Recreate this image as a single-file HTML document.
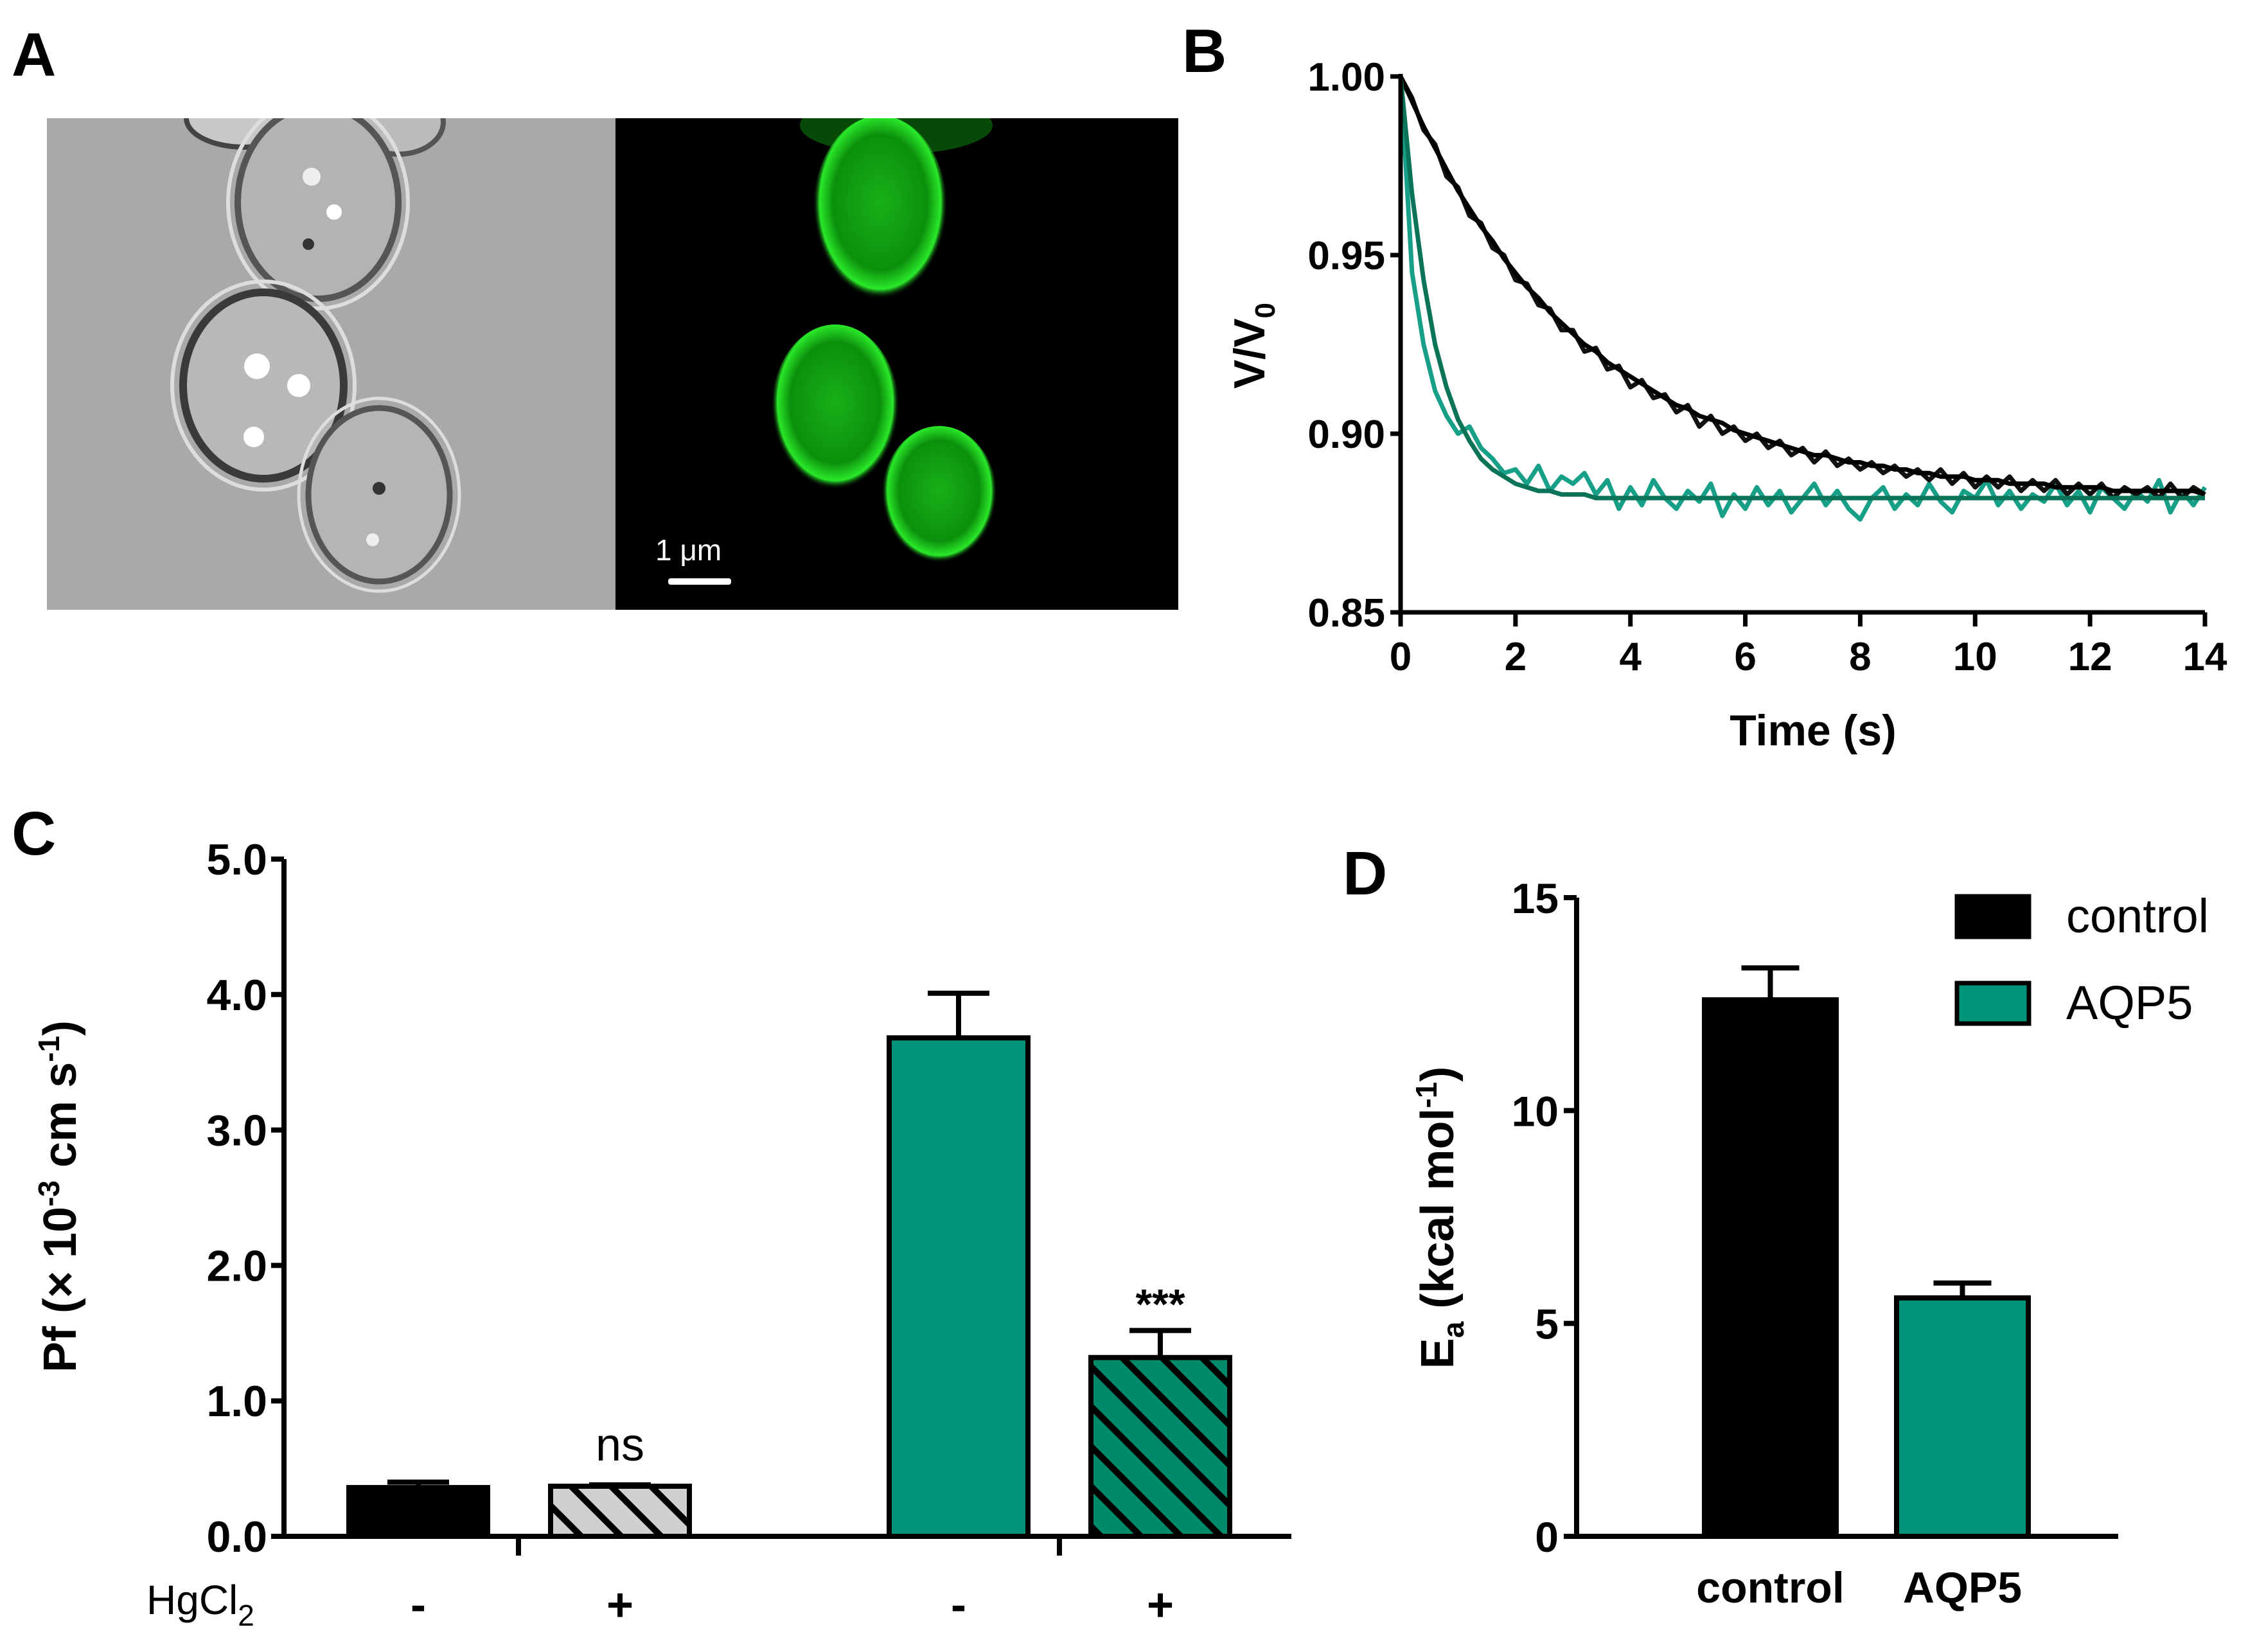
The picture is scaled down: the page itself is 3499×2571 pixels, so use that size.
<!DOCTYPE html>
<html><head><meta charset="utf-8"><style>
html,body{margin:0;padding:0;background:#fff;}
svg{display:block;}
text{font-family:"Liberation Sans",sans-serif;}
</style></head><body>
<svg id="fig" width="3499" height="2571" viewBox="0 0 3499 2571" xmlns="http://www.w3.org/2000/svg">
<defs>
<pattern id="hatchGray" patternUnits="userSpaceOnUse" width="44" height="44" patternTransform="rotate(-45)">
<rect width="44" height="44" fill="#cfcfcf"/><rect width="10" height="44" fill="#000"/></pattern>
<pattern id="hatchTeal" patternUnits="userSpaceOnUse" width="44" height="44" patternTransform="rotate(-45)">
<rect width="44" height="44" fill="#008a6c"/><rect width="10" height="44" fill="#000"/></pattern>
<radialGradient id="gcell" cx="50%" cy="45%" r="50%"><stop offset="0" stop-color="#18b018"/><stop offset="0.7" stop-color="#0c900c"/><stop offset="0.9" stop-color="#2ae82a"/><stop offset="1" stop-color="#000" stop-opacity="0"/></radialGradient>
<clipPath id="clipBF"><rect x="73" y="184" width="885" height="765"/></clipPath>
<clipPath id="clipFL"><rect x="958" y="184" width="876" height="765"/></clipPath>
</defs>

<text x="18" y="118" font-size="96" font-weight="bold">A</text>
<text x="1840" y="112" font-size="96" font-weight="bold">B</text>
<text x="18" y="1330" font-size="96" font-weight="bold">C</text>
<text x="2090" y="1392" font-size="96" font-weight="bold">D</text>

<g clip-path="url(#clipBF)">
<rect x="73" y="184" width="885" height="765" fill="#a9a9a9"/>
<ellipse cx="380" cy="184" rx="90" ry="45" fill="#c8c8c8" stroke="#444" stroke-width="8"/>
<ellipse cx="620" cy="190" rx="70" ry="50" fill="#bbb" stroke="#555" stroke-width="8"/>
<ellipse cx="495" cy="315" rx="125" ry="150" fill="#b3b3b3" stroke="#555" stroke-width="10"/>
<ellipse cx="495" cy="315" rx="140" ry="165" fill="none" stroke="#ddd" stroke-width="6"/>
<ellipse cx="410" cy="600" rx="125" ry="145" fill="#b8b8b8" stroke="#3a3a3a" stroke-width="12"/>
<ellipse cx="410" cy="600" rx="142" ry="162" fill="none" stroke="#ddd" stroke-width="6"/>
<ellipse cx="590" cy="770" rx="110" ry="135" fill="#b5b5b5" stroke="#555" stroke-width="9"/>
<ellipse cx="590" cy="770" rx="125" ry="150" fill="none" stroke="#ddd" stroke-width="5"/>
<circle cx="485" cy="275" r="14" fill="#eee"/><circle cx="520" cy="330" r="12" fill="#fff"/><circle cx="480" cy="380" r="9" fill="#333"/>
<circle cx="400" cy="570" r="20" fill="#fff"/><circle cx="465" cy="600" r="18" fill="#fff"/><circle cx="395" cy="680" r="16" fill="#fff"/>
<circle cx="590" cy="760" r="10" fill="#333"/><circle cx="580" cy="840" r="10" fill="#eee"/>
</g>
<g clip-path="url(#clipFL)">
<rect x="958" y="184" width="876" height="765" fill="#000"/>
<ellipse cx="1395" cy="195" rx="150" ry="45" fill="#0a6a0a" opacity="0.7"/>
<ellipse cx="1370" cy="330" rx="105" ry="150" fill="url(#gcell)"/>
<ellipse cx="1300" cy="640" rx="100" ry="135" fill="url(#gcell)"/>
<ellipse cx="1462" cy="775" rx="90" ry="112" fill="url(#gcell)"/>
<text x="1020" y="872" font-size="46" fill="#fff">1 μm</text>
<rect x="1040" y="900" width="98" height="10" rx="4" fill="#fff"/>
</g>

<g id="panelB"></g>
<g id="panelC"></g>
<g id="panelD"></g>
</svg>
<script>
// ---------- Panel B data ----------
const bTimeStep = 0.2;
const bYTicks = [0.85, 0.90, 0.95, 1.00];
const bXTicks = [0, 2, 4, 6, 8, 10, 12, 14];
const controlRaw = [1.000,.994,.985,.981,.972,.969,.961,.959,.952,.950,.943,.942,.936,.935,.929,.929,.923,.924,.918,.919,.913,.915,.910,.911,.906,.908,.902,.905,.900,.902,.898,.900,.896,.898,.894,.896,.892,.895,.891,.893,.890,.892,.889,.891,.888,.890,.887,.890,.886,.889,.885,.888,.885,.888,.884,.887,.884,.887,.883,.886,.883,.886,.882,.885,.883,.885,.882,.886,.882,.885,.883];
const controlFit = [1.000,.993,.986,.980,.974,.968,.963,.958,.954,.949,.945,.941,.938,.934,.931,.928,.925,.923,.920,.918,.916,.914,.912,.910,.908,.907,.905,.904,.903,.901,.900,.899,.898,.897,.896,.895,.894,.894,.893,.892,.892,.891,.891,.890,.890,.889,.889,.888,.888,.888,.887,.887,.887,.886,.886,.886,.886,.885,.885,.885,.885,.885,.884,.884,.884,.884,.884,.884,.884,.884,.883];
const aqp5Raw = [1.000,.945,.925,.912,.905,.900,.902,.896,.893,.889,.890,.886,.891,.884,.888,.886,.889,.883,.887,.879,.885,.880,.887,.882,.879,.884,.881,.886,.877,.883,.879,.885,.880,.884,.878,.882,.886,.880,.884,.879,.876,.882,.885,.879,.883,.880,.886,.881,.878,.884,.882,.887,.880,.884,.879,.883,.881,.886,.880,.884,.878,.885,.882,.879,.884,.881,.887,.878,.884,.880,.885];
const aqp5Fit = [1.000,.967,.943,.925,.913,.904,.898,.893,.890,.888,.886,.885,.884,.884,.883,.883,.883,.882,.882,.882,.882,.882,.882,.882,.882,.882,.882,.882,.882,.882,.882,.882,.882,.882,.882,.882,.882,.882,.882,.882,.882,.882,.882,.882,.882,.882,.882,.882,.882,.882,.882,.882,.882,.882,.882,.882,.882,.882,.882,.882,.882,.882,.882,.882,.882,.882,.882,.882,.882,.882,.882];

// ---------- Panel C data ----------
const cCategories = ["control -", "control +", "AQP5 -", "AQP5 +"];
const cValues = [0.36, 0.37, 3.68, 1.32];
const cErrors = [0.04, 0.01, 0.33, 0.20];
const cYTicks = [0.0, 1.0, 2.0, 3.0, 4.0, 5.0];
const cSigns = ["-", "+", "-", "+"];
const cAnnot = ["", "ns", "", "***"];

// ---------- Panel D data ----------
const dCategories = ["control", "AQP5"];
const dValues = [12.6, 5.6];
const dErrors = [0.75, 0.35];
const dYTicks = [0, 5, 10, 15];

const NS = "http://www.w3.org/2000/svg";
function mk(tag, attrs, parent, txt){
  const e = document.createElementNS(NS, tag);
  for (const k in attrs) e.setAttribute(k, attrs[k]);
  if (txt !== undefined) e.textContent = txt;
  parent.appendChild(e);
  return e;
}

// ===== Panel B =====
(function(){
  const g = document.getElementById('panelB');
  const x0=2180, x1=3432, y0=953, y1=119;
  const xs = t => x0 + t/14*(x1-x0);
  const ys = v => y0 - (v-0.85)/0.15*(y0-y1);
  function line(arr, color, w, name){
    const pts = arr.map((v,i)=>xs(i*bTimeStep).toFixed(1)+','+ys(v).toFixed(1)).join(' ');
    const p = mk('polyline',{points:pts,fill:'none',stroke:color,'stroke-width':w,'stroke-linejoin':'round'},g);
    
    
  }
  line(aqp5Raw,'#17a087',7,'aqp5-raw-trace');
  line(controlRaw,'#111',7,'control-raw-trace');
  line(controlFit,'#000',7,'control-fit-curve');
  line(aqp5Fit,'#0b7358',7,'aqp5-fit-curve');
  const ax = mk('path',{d:`M${x0},${y1-4} V${y0} H${x1}`,fill:'none',stroke:'#000','stroke-width':7},g);
  
  
  bYTicks.forEach(v=>{
    mk('line',{x1:x0-16,x2:x0,y1:ys(v),y2:ys(v),stroke:'#000','stroke-width':7},g);
    const t = mk('text',{x:x0-24,y:ys(v)+22,'font-size':62,'font-weight':'bold','text-anchor':'end'},g,v.toFixed(2));
    
    
  });
  bXTicks.forEach(v=>{
    mk('line',{x1:xs(v),x2:xs(v),y1:y0,y2:y0+22,stroke:'#000','stroke-width':7},g);
    const t = mk('text',{x:xs(v),y:y0+90,'font-size':62,'font-weight':'bold','text-anchor':'middle'},g,String(v));
    
    
  });
  const xt = mk('text',{x:2822,y:1160,'font-size':68,'font-weight':'bold','text-anchor':'middle'},g,'Time (s)');
  
  
  const yt = mk('text',{transform:'translate(1968,538) rotate(-90)','font-size':68,'font-weight':'bold','text-anchor':'middle'},g);
  
  
  yt.innerHTML = 'V/V<tspan font-size="44" dy="16">0</tspan>';
})();

// ===== Panel C =====
(function(){
  const g = document.getElementById('panelC');
  const x0=442, x1=2010, y0=2391, y1=1337;
  const ys = v => y0 - v/5*(y0-y1);
  const barL = [543, 857, 1384, 1698];
  const bw = 216;
  const fills = ['#000','url(#hatchGray)','#00957a','url(#hatchTeal)'];
  cValues.forEach((v,i)=>{
    const cx = barL[i]+bw/2;
    const top = ys(v+cErrors[i]);
    const e = mk('path',{d:`M${cx},${ys(v)} V${top} M${cx-48},${top} H${cx+48}`,stroke:'#000','stroke-width':8,fill:'none'},g);
    
    
    const r = mk('rect',{x:barL[i],y:ys(v),width:bw,height:y0-ys(v),fill:fills[i],stroke:'#000','stroke-width':8},g);
    
    
    if (cAnnot[i]) {
      const a = mk('text',{x:cx,y:top-(cAnnot[i]==='ns'?38:18),'font-size':cAnnot[i]==='ns'?72:66,'font-weight':cAnnot[i]==='ns'?'normal':'bold','text-anchor':'middle'},g,cAnnot[i]);
      
      
    }
    const s = mk('text',{x:cx,y:2522,'font-size':72,'font-weight':'bold','text-anchor':'middle'},g,cSigns[i]);
    
    
  });
  const ax = mk('path',{d:`M${x0},${y1} V${y0} H${x1}`,fill:'none',stroke:'#000','stroke-width':8},g);
  
  
  [807,1649].forEach(x=>mk('line',{x1:x,x2:x,y1:y0,y2:y0+30,stroke:'#000','stroke-width':8},g));
  cYTicks.forEach(v=>{
    mk('line',{x1:x0-20,x2:x0,y1:ys(v),y2:ys(v),stroke:'#000','stroke-width':8},g);
    const t = mk('text',{x:x0-26,y:ys(v)+24,'font-size':68,'font-weight':'bold','text-anchor':'end'},g,v.toFixed(1));
    
    
  });
  const h = mk('text',{x:228,y:2512,'font-size':64},g);
  
  
  h.innerHTML = 'HgCl<tspan font-size="46" dy="18">2</tspan>';
  const yt = mk('text',{transform:'translate(118,1862) rotate(-90)','font-size':72,'font-weight':'bold','text-anchor':'middle'},g);
  
  
  yt.innerHTML = 'Pf (× 10<tspan font-size="46" dy="-26">-3</tspan><tspan dy="26"> cm s</tspan><tspan font-size="46" dy="-26">-1</tspan><tspan dy="26">)</tspan>';
})();

// ===== Panel D =====
(function(){
  const g = document.getElementById('panelD');
  const x0=2454, x1=3297, y0=2391, y1=1397;
  const ys = v => y0 - v/15*(y0-y1);
  const barL = [2653, 2952];
  const bw = 205;
  const fills = ['#000','#00957a'];
  dValues.forEach((v,i)=>{
    const cx = barL[i]+bw/2;
    const top = ys(v+dErrors[i]);
    const e = mk('path',{d:`M${cx},${ys(v)} V${top} M${cx-45},${top} H${cx+45}`,stroke:'#000','stroke-width':8,fill:'none'},g);
    
    
    const r = mk('rect',{x:barL[i],y:ys(v),width:bw,height:y0-ys(v),fill:fills[i],stroke:'#000','stroke-width':8},g);
    
    
    const t = mk('text',{x:cx,y:2494,'font-size':68,'font-weight':'bold','text-anchor':'middle'},g,dCategories[i]);
    
    
  });
  const ax = mk('path',{d:`M${x0},${y1} V${y0} H${x1}`,fill:'none',stroke:'#000','stroke-width':8},g);
  
  
  dYTicks.forEach(v=>{
    mk('line',{x1:x0-20,x2:x0,y1:ys(v),y2:ys(v),stroke:'#000','stroke-width':8},g);
    const t = mk('text',{x:x0-28,y:ys(v)+24,'font-size':66,'font-weight':'bold','text-anchor':'end'},g,String(v));
    
    
  });
  const yt = mk('text',{transform:'translate(2262,1895) rotate(-90)','font-size':72,'font-weight':'bold','text-anchor':'middle'},g);
  
  
  yt.innerHTML = 'E<tspan font-size="46" dy="16">a</tspan><tspan dy="-16"> (kcal mol</tspan><tspan font-size="46" dy="-26">-1</tspan><tspan dy="26">)</tspan>';
  const legFill = ['#000','#00957a'];
  const legY = [1395, 1530];
  dCategories.forEach((c,i)=>{
    const r = mk('rect',{x:3046,y:legY[i],width:112,height:63,fill:legFill[i],stroke:'#000','stroke-width':7},g);
    
    
    const t = mk('text',{x:3216,y:legY[i]+56,'font-size':74},g,c);
    
    
  });
})();
</script>
</body></html>
